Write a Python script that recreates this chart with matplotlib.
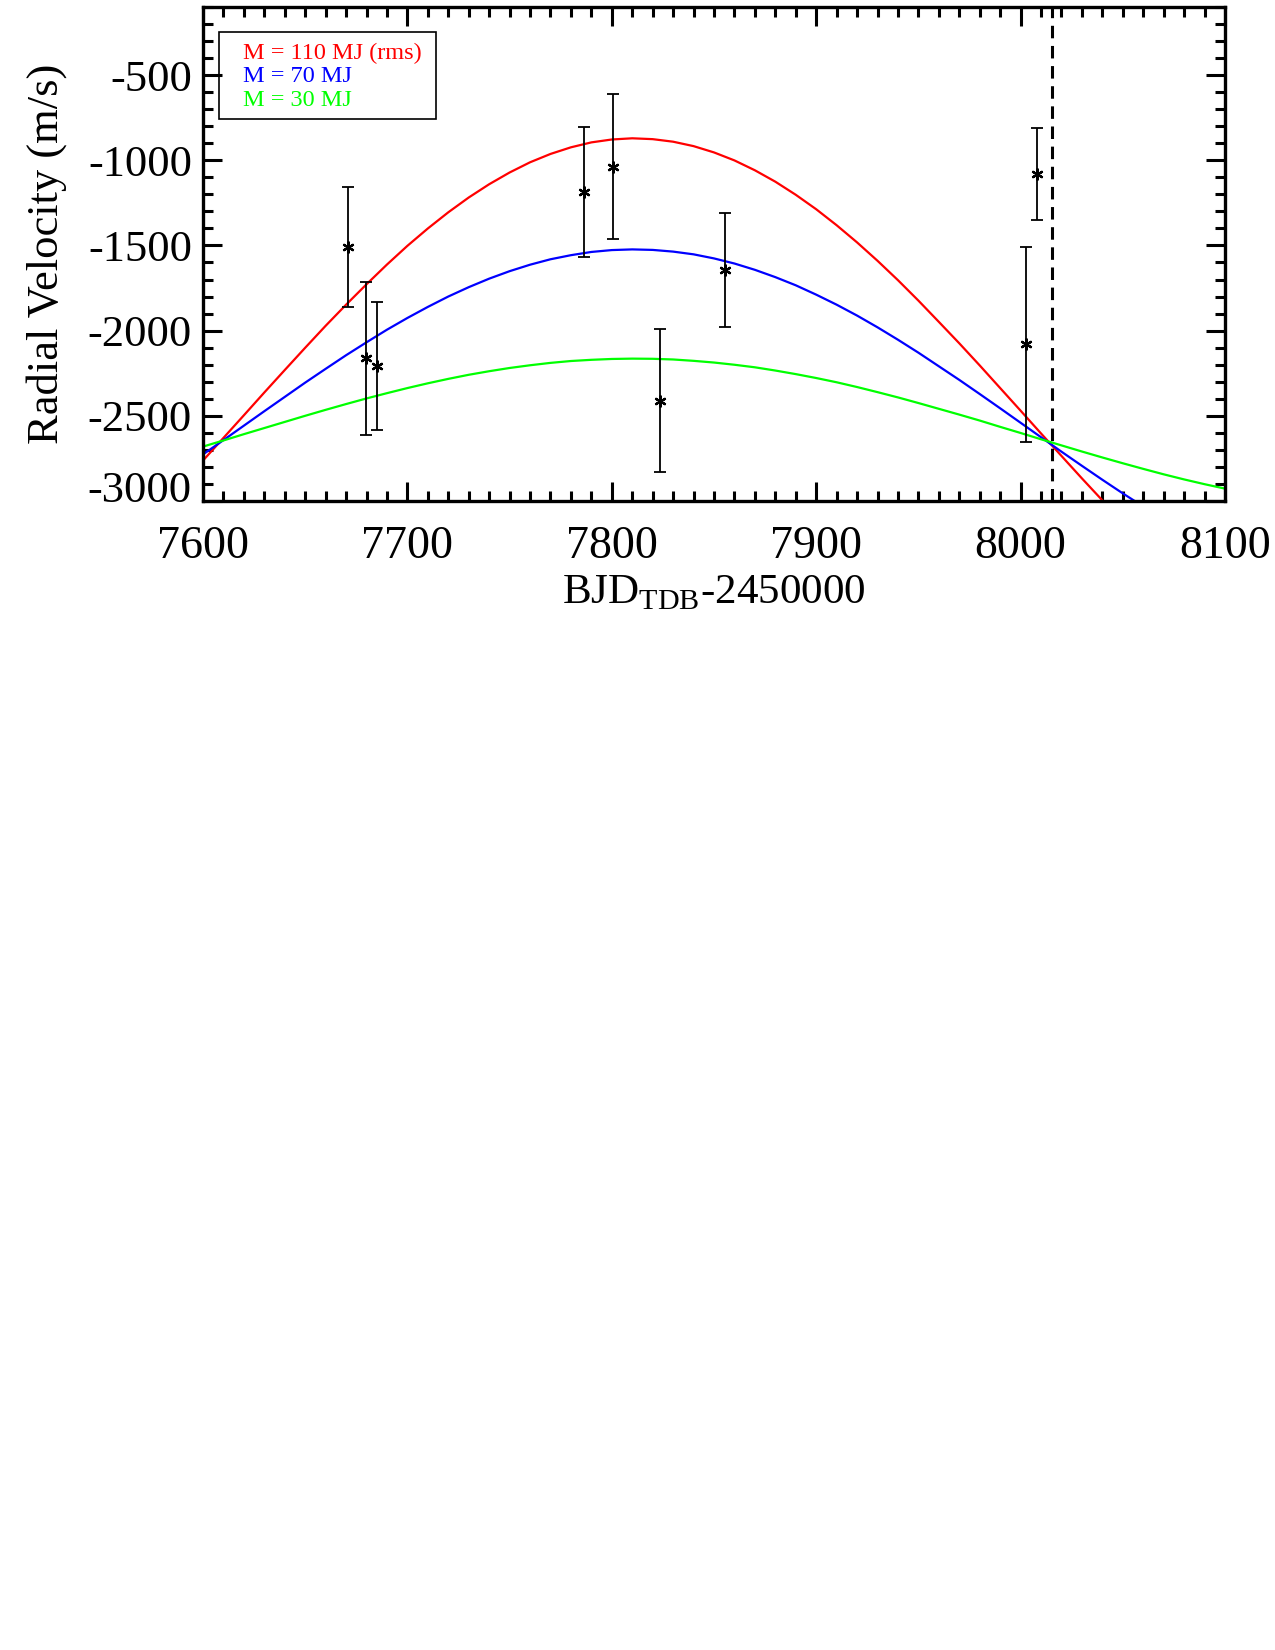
import matplotlib
matplotlib.use("Agg")
import matplotlib.pyplot as plt
import matplotlib.transforms as mtransforms
from matplotlib.patches import Rectangle
from matplotlib.ticker import MultipleLocator

plt.rcParams['font.family'] = ['Liberation Serif', 'DejaVu Serif']
plt.rcParams['mathtext.fontset'] = 'custom'
plt.rcParams['mathtext.rm'] = 'Liberation Serif'
plt.rcParams['lines.scale_dashes'] = False

# observed radial velocities (BJD_TDB - 2450000, m/s)
obs_time = [7671.1, 7679.8, 7685.3, 7786.5, 7800.4, 7823.6, 7855.5, 8002.5, 8007.9]
obs_rv = [-1507, -2163, -2208, -1184, -1037, -2412, -1644, -2081, -1080]
obs_err = [353, 451, 374, 382, 425, 419, 333, 575, 273]

# model curves, read every 10 days
model_time = list(range(7600, 8101, 10))
rv_110 = [-2764, -2631, -2498, -2364, -2232, -2101, -1972, -1848, -1728, -1612,
          -1502, -1400, -1305, -1218, -1140, -1071, -1011, -962, -923, -894,
          -877, -870, -875, -890, -916, -953, -1000, -1058, -1125, -1202,
          -1287, -1381, -1482, -1590, -1704, -1824, -1949, -2075, -2205, -2338,
          -2471, -2605, -2737, -2869, -2998, -3123, -3244, -3361, -3470, -3573,
          -3670]
rv_70 = [-2728, -2644, -2559, -2474, -2390, -2306, -2225, -2145, -2069, -1995,
         -1926, -1861, -1800, -1745, -1695, -1651, -1613, -1581, -1557, -1538,
         -1527, -1523, -1526, -1536, -1552, -1576, -1606, -1643, -1686, -1734,
         -1789, -1848, -1912, -1981, -2054, -2130, -2210, -2290, -2373, -2457,
         -2542, -2627, -2712, -2795, -2877, -2957, -3034, -3108, -3178, -3244,
         -3305]
rv_30 = [-2682, -2646, -2609, -2573, -2537, -2501, -2466, -2432, -2399, -2368,
         -2338, -2310, -2284, -2260, -2239, -2220, -2204, -2190, -2179, -2172,
         -2167, -2165, -2166, -2170, -2178, -2188, -2201, -2216, -2235, -2256,
         -2279, -2304, -2332, -2362, -2393, -2426, -2460, -2494, -2529, -2566,
         -2602, -2639, -2675, -2711, -2746, -2780, -2813, -2845, -2875, -2903,
         -2929]

t_mark = 8015.2
legend_labels = ['M = 110 MJ (rms)', 'M = 70 MJ', 'M = 30 MJ']
legend_colors = ['#ff0000', '#0000ff', '#00ff00']
ytick_vals = [-500, -1000, -1500, -2000, -2500, -3000]
ytick_text = ['-500', '-1000', '-1500', '-2000', '-2500', '-3000']
xtick_vals = [7600, 7700, 7800, 7900, 8000, 8100]

fig = plt.figure(figsize=(12.75, 16.5), dpi=100)
ax = fig.add_axes([0.15922, 0.69655, 0.80157, 0.29903])

for rv, col in zip([rv_110, rv_70, rv_30], legend_colors):
    ax.plot(model_time, rv, color=col, lw=1.6)

ax.axvline(t_mark, color='k', lw=2.2, dashes=(9, 5.5))

ax.errorbar(obs_time, obs_rv, yerr=obs_err, fmt='none', ecolor='k',
            elinewidth=1.3, capsize=4, capthick=1.3, zorder=4)
ax.plot(obs_time, obs_rv, ls='none', marker=(6, 2, 0), ms=8.5, mew=1.6,
        color='k', zorder=5)

ax.set_xlim(7600, 8100)
ax.set_ylim(-3000, -100)
ax.set_xticks(xtick_vals)
ax.set_yticks(ytick_vals)
ax.set_yticklabels(ytick_text)
ax.xaxis.set_minor_locator(MultipleLocator(10))
ax.yaxis.set_minor_locator(MultipleLocator(100))
ax.tick_params(which='both', direction='in', top=True, right=True, width=2.2)
ax.tick_params(which='major', length=14)
ax.tick_params(which='minor', length=7)
ax.tick_params(axis='x', labelsize=33, pad=18)
ax.tick_params(axis='y', labelsize=32, pad=8)
for s in ax.spines.values():
    s.set_linewidth(2.4)

# the bottom label sits a little higher, as in the original
for lab in ax.get_yticklabels():
    if lab.get_text() == '-3000':
        lab.set_transform(lab.get_transform() +
                          mtransforms.ScaledTranslation(0, 10 / 72, fig.dpi_scale_trans))

ax.set_xlabel(r'BJD$_{\rm TDB}$-2450000', fontsize=31)
ax.set_ylabel('Radial Velocity (m/s)', fontsize=32)
ax.xaxis.set_label_coords(0.5, -0.147)
ax.yaxis.set_label_coords(-0.133, 0.5)

# legend box
ax.add_patch(Rectangle((0.016, 0.7736), 0.212, 0.1757, transform=ax.transAxes,
                       fill=False, lw=1.2, ec='k', zorder=6))
for i, (lab, col) in enumerate(zip(legend_labels, legend_colors)):
    ax.text(0.0394, 0.906 - i * 0.047, lab, color=col, fontsize=17.5,
            transform=ax.transAxes, va='center', ha='left', zorder=7)

fig.savefig('out.png', dpi=100, facecolor='white')
